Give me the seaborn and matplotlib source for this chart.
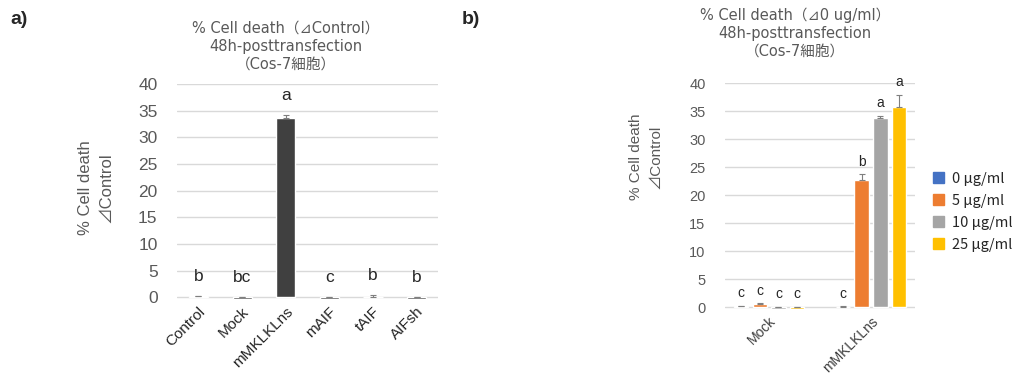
import numpy as np
import pandas as pd
import matplotlib
matplotlib.use("Agg")
import matplotlib.pyplot as plt
import seaborn as sns

# panel a data
a_groups = ["Control", "Mock", "mMKLKLns", "mAIF", "tAIF", "AIFsh"]
a_values = [0.2, -0.4, 33.7, -0.4, 0.1, -0.4]
a_errors = [0.1, 0.05, 0.5, 0.05, 0.3, 0.05]
a_letters = ["b", "bc", "a", "c", "b", "b"]

# panel b data
b_groups = ["Mock", "mMKLKLns"]
b_doses = ["0 μg/ml", "5 μg/ml", "10 μg/ml", "25 μg/ml"]
b_values = {
    "0 μg/ml": [0.2, 0.1],
    "5 μg/ml": [0.5, 22.7],
    "10 μg/ml": [-0.3, 33.7],
    "25 μg/ml": [-0.3, 35.7],
}
b_errors = {
    "0 μg/ml": [0.1, 0.1],
    "5 μg/ml": [0.2, 1.0],
    "10 μg/ml": [0.05, 0.5],
    "25 μg/ml": [0.05, 2.2],
}
b_letters = {
    "0 μg/ml": ["c", "c"],
    "5 μg/ml": ["c", "b"],
    "10 μg/ml": ["c", "a"],
    "25 μg/ml": ["c", "a"],
}
b_colors = ["#4472C4", "#ED7D31", "#A5A5A5", "#FFC000"]

sns.set_theme(style="white")
plt.rcParams["font.family"] = ["Liberation Sans", "Noto Sans CJK JP", "DejaVu Sans"]

GRAY = "#595959"
GRID = "#D9D9D9"
CJK = ["Noto Sans CJK JP", "DejaVu Sans"]
TITLE_FONT = ["DejaVu Sans", "Noto Sans CJK JP"]

fig = plt.figure(figsize=(10.31, 3.85), dpi=100)
ax_a = fig.add_axes([0.1717, 0.2208, 0.2532, 0.561])
ax_b = fig.add_axes([0.7032, 0.1948, 0.1843, 0.5896])


def style_axis(ax, tick_size, label_size):
    ax.set_ylim(-0.5, 40)
    ax.set_yticks(np.arange(0, 41, 5))
    ax.yaxis.grid(True, color=GRID, linewidth=1)
    ax.set_axisbelow(True)
    for s in ["top", "right", "left", "bottom"]:
        ax.spines[s].set_visible(False)
    ax.tick_params(axis="y", length=0, pad=14, labelsize=tick_size, labelcolor=GRAY)
    ax.tick_params(axis="x", length=0, pad=3)
    ax.set_xlabel("")
    ax.set_ylabel("% Cell death\n⊿Control", fontsize=label_size, color=GRAY,
                  linespacing=1.45)


# ---- panel a ----
sns.barplot(x=a_groups, y=a_values, color="#404040", saturation=1,
            width=0.44, errorbar=None, ax=ax_a)
style_axis(ax_a, 12.5, 12)
ax_a.yaxis.set_label_coords(-0.245, 0.52)
for lab in ax_a.get_xticklabels():
    lab.set_rotation(45)
    lab.set_ha("right")
    lab.set_rotation_mode("anchor")
    lab.set_fontsize(11)
    lab.set_color("#262626")

bars = ax_a.containers[0]
xs = [p.get_x() + p.get_width() / 2 for p in bars]
tops = [max(v, 0) for v in a_values]
ax_a.errorbar(xs, tops, yerr=[[0] * len(a_errors), a_errors], fmt="none",
              ecolor="#7F7F7F", elinewidth=0.8, capsize=2.5, capthick=0.8)
for x, t, e, l in zip(xs, tops, a_errors, a_letters):
    ax_a.annotate(l, (x, t + e), xytext=(0, 14), textcoords="offset points",
                  ha="center", va="center", fontsize=12.5, color="#262626")

# ---- panel b ----
rows = []
for d in b_doses:
    for g, v in zip(b_groups, b_values[d]):
        rows.append({"group": g, "dose": d, "value": v})
df_b = pd.DataFrame(rows)

sns.barplot(data=df_b, x="group", y="value", hue="dose", hue_order=b_doses,
            palette=b_colors, saturation=1, width=0.74, gap=0.25,
            errorbar=None, ax=ax_b)
style_axis(ax_b, 10.5, 11)
ax_b.yaxis.set_label_coords(-0.33, 0.674)
for lab in ax_b.get_xticklabels():
    lab.set_rotation(45)
    lab.set_ha("right")
    lab.set_rotation_mode("anchor")
    lab.set_fontsize(10)
    lab.set_color("#404040")

for d, cont in zip(b_doses, ax_b.containers):
    xs = [p.get_x() + p.get_width() / 2 for p in cont]
    tops = [max(v, 0) for v in b_values[d]]
    errs = b_errors[d]
    ax_b.errorbar(xs, tops, yerr=[[0] * len(errs), errs], fmt="none",
                  ecolor="#7F7F7F", elinewidth=0.8, capsize=2, capthick=0.8)
    for x, t, e, l in zip(xs, tops, errs, b_letters[d]):
        ax_b.annotate(l, (x, t + e), xytext=(0, 9), textcoords="offset points",
                      ha="center", va="center", fontsize=10, color="#262626")

ax_b.get_legend().remove()
handles = [plt.Rectangle((0, 0), 1, 1, color=c) for c in b_colors]
fig.legend(handles, b_doses, loc="center left", bbox_to_anchor=(0.892, 0.45),
           frameon=False, handlelength=0.8, handleheight=0.8,
           handletextpad=0.5, labelspacing=0.55, prop={"family": CJK, "size": 10.5})

# titles
fig.text(286 / 1031, 1 - 46 / 385,
         "% Cell death（⊿Control）\n48h-posttransfection\n（Cos-7細胞）",
         ha="center", va="center", fontsize=10.5, color=GRAY, family=TITLE_FONT,
         linespacing=1.25)
fig.text(795 / 1031, 1 - 33 / 385,
         "% Cell death（⊿0 ug/ml）\n48h-posttransfection\n（Cos-7細胞）",
         ha="center", va="center", fontsize=10.5, color=GRAY, family=TITLE_FONT,
         linespacing=1.25)

fig.text(10 / 1031, 1 - 20 / 385, "a)", fontsize=14, fontweight="bold",
         va="center", ha="left")
fig.text(462 / 1031, 1 - 20 / 385, "b)", fontsize=14, fontweight="bold",
         va="center", ha="left")

fig.savefig("out.png", dpi=100)
